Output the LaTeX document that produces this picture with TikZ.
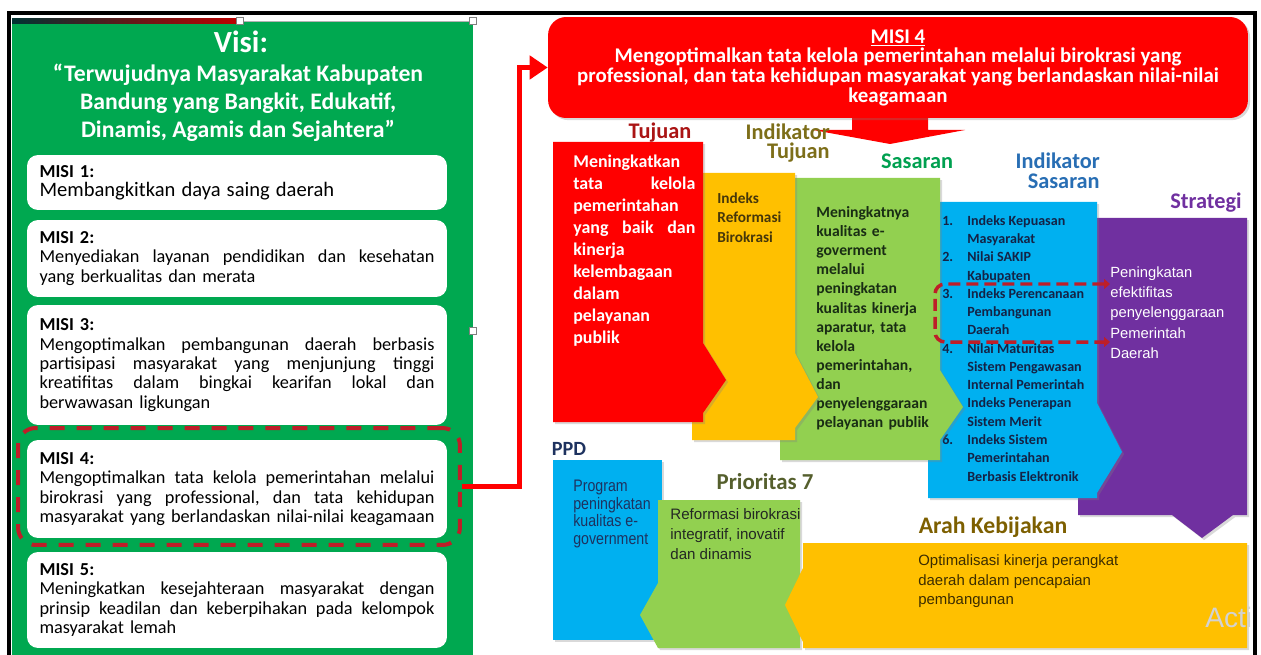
\documentclass[tikz,border=0pt]{standalone}
\usepackage{fontspec}
\setmainfont{Carlito}
\newfontfamily\arialfont{Liberation Sans}
\newfontfamily\arialnarrow[FakeStretch=0.85]{Liberation Sans}
\usetikzlibrary{arrows.meta,shadows}

\definecolor{panelgreen}{RGB}{0,168,80}
\definecolor{banred}{RGB}{255,0,0}
\definecolor{ringred}{RGB}{190,30,40}
\definecolor{colyellow}{RGB}{255,192,0}
\definecolor{collime}{RGB}{146,208,80}
\definecolor{colblue}{RGB}{0,176,240}
\definecolor{colpurple}{RGB}{112,48,160}
\definecolor{tujred}{RGB}{170,20,20}
\definecolor{olivehead}{RGB}{125,110,25}
\definecolor{sasgreen}{RGB}{0,160,80}
\definecolor{sasblue}{RGB}{40,110,180}
\definecolor{ppdnavy}{RGB}{30,50,95}
\definecolor{priohead}{RGB}{85,95,45}
\definecolor{arahhead}{RGB}{125,95,0}
\definecolor{darkolive}{RGB}{70,55,10}
\definecolor{darkleaf}{RGB}{25,45,20}
\definecolor{listnavy}{RGB}{20,35,70}
\definecolor{plaindark}{RGB}{35,40,35}
\definecolor{arahtext}{RGB}{60,45,0}

\newcommand{\jline}[2][7.9cm]{\leavevmode\hbox to #1{\frenchspacing\spaceskip=0.23em plus 1fil\relax #2}}
\newcommand{\listrow}[2]{\makebox[0.5cm][l]{#1}#2}

\tikzset{
  misibox/.style={fill=white, rounded corners=0.22cm, text width=7.9cm,
    inner xsep=0.25cm, inner ysep=0pt, align=left,
    font=\fontsize{10.4}{11}\selectfont},
  coltext/.style={anchor=north west, inner sep=0pt, align=left},
  heading/.style={inner sep=0pt, font=\bfseries\fontsize{12.7}{11.3}\selectfont},
  softshadow/.style={drop shadow={shadow xshift=1.2pt, shadow yshift=-1.2pt, opacity=0.3}},
  link/.style={draw=banred, line width=0.1cm, -{Triangle[length=0.36cm,width=0.46cm]}},
}

\begin{document}
\begin{tikzpicture}[x=0.02cm,y=-0.02cm]
  \useasboundingbox (0,0) rectangle (1261,655);

  \fill[panelgreen] (12,22) rectangle (473,655);
  \shade[left color=black!60!teal, right color=red!75!black] (12,19) rectangle (240,24);
  \draw[gray!60, line width=0.5pt] (240,21) -- (473,21);
  \foreach \hx/\hy in {240/21, 473/21, 473/331}
    \draw[gray, fill=white, line width=0.4pt] (\hx-3.5,\hy-3.5) rectangle (\hx+3.5,\hy+3.5);

  \node[text=white, font=\bfseries\fontsize{17.5}{20}\selectfont] (visi) at (241,42) {Visi:};
  \node[text=white, align=center, font=\bfseries\fontsize{13.5}{15.9}\selectfont] (quote) at (238,103)
    {“Terwujudnya Masyarakat Kabupaten\\Bandung yang Bangkit, Edukatif,\\Dinamis, Agamis dan Sejahtera”};

  \node[misibox, minimum height=1.1cm] (misi1) at (237,182.5)
    {\textbf{MISI 1:}\\{\fontsize{11.7}{11}\selectfont Membangkitkan daya saing daerah}};
  \node[misibox, minimum height=1.54cm] (misi2) at (237,258.5)
    {\textbf{MISI 2:}\\\jline{Menyediakan layanan pendidikan dan kesehatan}\\yang berkualitas dan merata};
  \node[misibox, minimum height=2.4cm] (misi3) at (237,365)
    {\textbf{MISI 3:}\\\jline{Mengoptimalkan pembangunan daerah berbasis}\\
     \jline{partisipasi masyarakat yang menjunjung tinggi}\\
     \jline{kreatifitas dalam bingkai kearifan lokal dan}\\berwawasan ligkungan};
  \node[misibox, minimum height=1.96cm] (misi4) at (237,489)
    {\textbf{MISI 4:}\\\jline{Mengoptimalkan tata kelola pemerintahan melalui}\\
     \jline{birokrasi yang professional, dan tata kehidupan}\\
     masyarakat yang berlandaskan nilai-nilai keagamaan};
  \node[draw=ringred, line width=0.08cm, dash pattern=on 0.3cm off 0.24cm, rounded corners=0.35cm,
    minimum width=8.84cm, minimum height=2.34cm] (ring) at (239,486.5) {};
  \node[misibox, minimum height=1.92cm] (misi5) at (237,600)
    {\textbf{MISI 5:}\\\jline{Meningkatkan kesejahteraan masyarakat dengan}\\
     \jline{prinsip keadilan dan keberpihakan pada kelompok}\\masyarakat lemah};

  \fill[banred] (852,110) -- (928,110) -- (928,130) -- (965,130) -- (890,144) -- (813,130) -- (852,130) -- cycle;
  \node[fill=banred, softshadow, rounded corners=0.36cm, minimum width=14cm, minimum height=2.02cm,
    text=white, align=center, font=\bfseries\fontsize{11.9}{11.2}\selectfont] (banner) at (898,67.5)
    {\underline{MISI 4}\\Mengoptimalkan tata kelola pemerintahan melalui birokrasi yang\\
     professional, dan tata kehidupan masyarakat yang berlandaskan nilai-nilai\\keagamaan};

  \coordinate (bend) at (519,67.5);
  \draw[link] (ring.east) -| (bend) -- (banner.west);

  \fill[colpurple, softshadow] (1078,218) -- (1247,218) -- (1247,515) -- (1233,515) -- (1202,538)
    -- (1172,515) -- (1078,515) -- cycle;
  \node[coltext, text=white, font=\arialfont\fontsize{8.4}{11.6}\selectfont] (strattext) at (1110,266)
    {Peningkatan\\efektifitas\\penyelenggaraan\\Pemerintah\\Daerah};

  \fill[colblue, softshadow] (928,202) -- (1097,202) -- (1097,403) -- (1122,452) -- (1097,493)
    -- (1097,498) -- (928,498) -- cycle;
  \node[coltext, text=listnavy, font=\bfseries\fontsize{8}{10.4}\selectfont] (indsastext) at (942,215)
    {\listrow{1.}{Indeks Kepuasan}\\\listrow{}{Masyarakat}\\\listrow{2.}{Nilai SAKIP}\\
     \listrow{}{Kabupaten}\\\listrow{3.}{Indeks Perencanaan}\\\listrow{}{Pembangunan}\\
     \listrow{}{Daerah}\\\listrow{4.}{Nilai Maturitas}\\\listrow{}{Sistem Pengawasan}\\
     \listrow{}{Internal Pemerintah}\\\listrow{5.}{Indeks Penerapan}\\\listrow{}{Sistem Merit}\\
     \listrow{6.}{Indeks Sistem}\\\listrow{}{Pemerintahan}\\\listrow{}{Berbasis Elektronik}};

  \fill[collime, softshadow] (780,178) -- (940,178) -- (940,370) -- (963,407) -- (940,440)
    -- (940,460) -- (780,460) -- cycle;
  \node[coltext, text=darkleaf, text width=2.4cm, font=\bfseries\fontsize{8.9}{10.9}\selectfont] (sastext) at (816,206)
    {Meningkatnya\\kualitas e-\\goverment\\melalui\\peningkatan\\kualitas kinerja\\aparatur, tata\\kelola\\
     pemerintahan,\\dan\\penyelenggaraan\\pelayanan publik};

  \fill[colyellow, softshadow] (692,173) -- (795,173) -- (795,353) -- (818,397) -- (795,428)
    -- (795,440) -- (692,440) -- cycle;
  \node[coltext, text=darkolive, font=\bfseries\fontsize{8.7}{11.3}\selectfont] (indtujtext) at (717,192)
    {Indeks\\Reformasi\\Birokrasi};

  \fill[banred, softshadow] (553,142) -- (703,142) -- (703,343) -- (726,380) -- (703,413)
    -- (703,422) -- (553,422) -- cycle;
  \node[coltext, text=white, text width=2.44cm, font=\bfseries\fontsize{10.2}{12.5}\selectfont] (tujtext) at (573,155)
    {Meningkatkan\\\jline[2.44cm]{tata kelola}\\pemerintahan\\\jline[2.44cm]{yang baik dan}\\kinerja\\kelembagaan\\
     dalam\\pelayanan\\publik};

  \draw[ringred, line width=0.07cm, dash pattern=on 0.24cm off 0.12cm, rounded corners=0.2cm,
    {Triangle[length=0.12cm,width=0.2cm]}-{Triangle[length=0.12cm,width=0.2cm]}]
    (1110,284) -- (935,284) -- (935,342) -- (1110,342);

  \node[heading, text=tujred] (tujuan) at (660,133) {Tujuan};
  \node[heading, text=olivehead, align=right, anchor=east] (indtujuan) at (830,143) {Indikator\\Tujuan};
  \node[heading, text=sasgreen] (sasaran) at (917,161) {Sasaran};
  \node[heading, text=sasblue, align=right, anchor=east] (indsasaran) at (1100,171) {Indikator\\Sasaran};
  \node[heading, text=colpurple] (strategi) at (1206,203) {Strategi};

  \fill[colblue, softshadow] (553,460) -- (662,460) -- (662,640) -- (553,640) -- cycle;
  \node[coltext, text=ppdnavy, font=\arialnarrow\fontsize{9.5}{10}\selectfont] (ppdtext) at (573,480)
    {Program\\peningkatan\\kualitas e-\\government};

  \fill[collime, softshadow] (658,500) -- (800,500) -- (800,648) -- (658,648) -- (640,615)
    -- (658,583) -- cycle;
  \node[coltext, text=plaindark, font=\arialfont\fontsize{8.6}{11.3}\selectfont] (priotext) at (670,508)
    {Reformasi birokrasi\\integratif, inovatif\\dan dinamis};

  \fill[colyellow, softshadow] (803,543) -- (1247,543) -- (1247,648) -- (803,648) -- (803,642)
    -- (785,605) -- (803,568) -- cycle;
  \node[coltext, text=arahtext, font=\arialfont\fontsize{8.5}{11.3}\selectfont] (arahtext) at (918,554)
    {Optimalisasi kinerja perangkat\\daerah dalam pencapaian\\pembangunan};

  \node[heading, text=ppdnavy, font=\bfseries\fontsize{11.5}{12}\selectfont] (ppd) at (569,449) {PPD};
  \node[heading, text=priohead, font=\bfseries\fontsize{13}{12}\selectfont] (prioritas) at (765,482) {Prioritas 7};
  \node[heading, text=arahhead, font=\bfseries\fontsize{13.5}{12}\selectfont] (arah) at (993,527) {Arah Kebijakan};

  \node[anchor=west, inner sep=0pt, text=gray!35, font=\arialfont\fontsize{16}{16}\selectfont] (acti) at (1205,617) {Acti};

  \draw[line width=0.07cm] (9,655) -- (9,13) -- (1255,13) -- (1255,655);
\end{tikzpicture}
\end{document}
